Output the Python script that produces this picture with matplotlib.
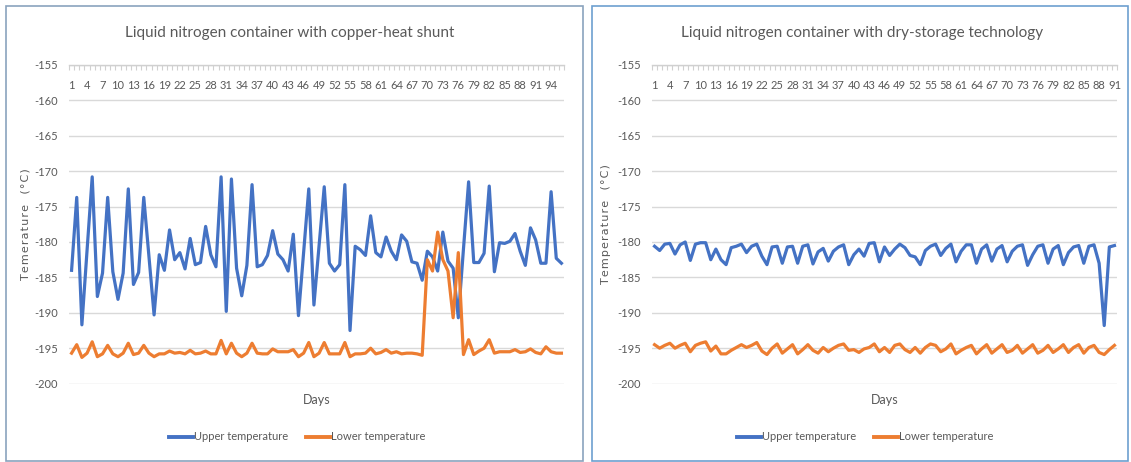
import matplotlib
matplotlib.use("Agg")
import matplotlib.pyplot as plt
from matplotlib.patches import Rectangle
from matplotlib.lines import Line2D
import numpy as np

# ---------------- data ----------------
title_left = "Liquid nitrogen container with copper-heat shunt"
title_right = "Liquid nitrogen container with dry-storage technology"
ylabel_left = "Temerature  (°C)"
ylabel_right = "Temperature  (°C)"
xlabel = "Days"
series_names = ["Upper temperature", "Lower temperature"]

upper_left = [
    -184.0, -173.7, -191.7, -181.2, -170.8, -187.7, -184.4, -173.7, -184.2, -188.1,
    -184.4, -172.5, -186.0, -184.3, -173.7, -182.0, -190.3, -181.8, -184.0, -178.3,
    -182.5, -181.5, -183.8, -179.5, -183.2, -182.9, -177.8, -181.8, -183.5, -170.8,
    -189.8, -171.1, -183.7, -187.6, -183.3, -171.9, -183.5, -183.2, -181.9, -178.4,
    -181.7, -182.5, -184.1, -178.9, -190.4, -181.5, -172.5, -188.9, -180.5, -172.2,
    -183.0, -184.1, -183.2, -171.9, -192.5, -180.6, -181.1, -181.9, -176.3, -181.5,
    -182.1, -179.3, -181.3, -182.5, -179.0, -179.9, -182.8, -183.0, -185.4, -181.3,
    -182.1, -184.1, -178.6, -182.7, -183.7, -190.7, -181.0, -171.5, -182.9, -182.9,
    -181.6, -172.1, -184.2, -180.1, -180.2, -179.9, -178.8, -181.3, -183.3, -178.0,
    -179.7, -183.0, -183.0, -172.9, -182.3, -183.0]
lower_left = [
    -195.7, -194.5, -196.3, -195.7, -194.1, -196.2, -195.8, -194.6, -195.8, -196.2,
    -195.7, -194.3, -195.9, -195.7, -194.6, -195.7, -196.2, -195.8, -195.8, -195.4,
    -195.7, -195.6, -195.8, -195.3, -195.8, -195.7, -195.4, -195.8, -195.8, -193.9,
    -195.8, -194.3, -195.7, -196.2, -195.7, -194.3, -195.7, -195.8, -195.8, -195.1,
    -195.5, -195.5, -195.5, -195.2, -196.2, -195.7, -194.2, -196.2, -195.7, -194.2,
    -195.8, -195.8, -195.8, -194.2, -196.2, -195.8, -195.8, -195.7, -195.0, -195.8,
    -195.6, -195.2, -195.7, -195.5, -195.8, -195.7, -195.7, -195.8, -196.0, -182.5,
    -184.1, -178.6, -182.5, -184.1, -190.7, -181.5, -195.9, -193.8, -195.9, -195.4,
    -195.0, -193.8, -195.7, -195.5, -195.5, -195.5, -195.2, -195.6, -195.5, -195.1,
    -195.6, -195.8, -194.8, -195.5, -195.7, -195.7]

upper_right = [
    -180.6, -181.2, -180.3, -180.2, -181.7, -180.4, -180.0, -182.6, -180.3, -180.1,
    -180.1, -182.5, -181.0, -182.5, -183.2, -180.8, -180.6, -180.3, -181.5, -180.6,
    -180.3, -182.0, -183.2, -180.7, -180.6, -183.0, -180.7, -180.6, -183.0, -180.6,
    -180.4, -183.1, -181.4, -180.9, -182.7, -181.3, -180.7, -180.4, -183.2, -181.8,
    -181.0, -182.0, -180.2, -180.1, -182.8, -180.7, -181.9, -181.0, -180.3, -180.8,
    -181.9, -182.1, -183.2, -181.2, -180.6, -180.3, -181.9, -180.9, -180.3, -182.8,
    -181.3, -180.4, -180.4, -183.0, -181.0, -180.4, -182.7, -181.0, -180.5, -182.8,
    -181.3, -180.6, -180.4, -183.3, -181.8, -180.6, -180.4, -183.0, -181.0, -180.5,
    -183.2, -181.5, -180.7, -180.5, -183.0, -180.6, -180.4, -183.0, -191.8, -180.7,
    -180.5]
lower_right = [
    -194.5, -195.0, -194.6, -194.3, -195.0, -194.6, -194.3, -195.5, -194.6, -194.3,
    -194.1, -195.4, -194.7, -195.8, -195.8, -195.3, -194.9, -194.5, -194.9, -194.6,
    -194.2, -195.4, -195.9, -195.0, -194.4, -195.7, -195.1, -194.5, -195.8, -195.2,
    -194.5, -195.3, -195.7, -194.9, -195.5, -195.0, -194.6, -194.4, -195.3, -195.2,
    -195.6, -195.1, -194.9, -194.4, -195.5, -194.9, -195.6, -194.6, -194.4, -195.2,
    -195.6, -194.9, -195.7, -194.9, -194.4, -194.6, -195.5, -195.1, -194.4, -195.8,
    -195.3, -194.9, -194.6, -195.8, -195.1, -194.5, -195.7, -195.1, -194.5, -195.6,
    -195.3, -194.6, -195.7, -195.1, -194.5, -195.7, -195.3, -194.6, -195.6, -195.1,
    -194.5, -195.6, -194.9, -194.5, -195.7, -194.9, -194.6, -195.6, -195.9, -195.2,
    -194.6]

y_ticks = [-155, -160, -165, -170, -175, -180, -185, -190, -195, -200]

# ---------------- style ----------------
BLUE = "#4472C4"
ORANGE = "#ED7D31"
TXT = "#595959"
GRID = "#d9d9d9"
FONT = "Lato"

W, H = 1131, 462
fig = plt.figure(figsize=(W / 100, H / 100), dpi=100)
fig.patch.set_facecolor("white")


def px(x0, y0, x1, y1):
    """pixel box (top-left origin) -> figure fraction rect"""
    return [x0 / W, 1 - y1 / H, (x1 - x0) / W, (y1 - y0) / H]


# panel frames
fig.add_artist(Rectangle((6 / W, 1 - 461 / H), 577 / W, 455 / H, transform=fig.transFigure,
                         fill=False, edgecolor="#8aa3bd", lw=1.2))
fig.add_artist(Rectangle((592 / W, 1 - 461 / H), 536 / W, 455 / H, transform=fig.transFigure,
                         fill=False, edgecolor="#6d9fd0", lw=1.2))


def spaced(s):
    return "\u200a".join(s)


def draw(rect, upper, lower, title, ylabel, title_cx, ylab_x, legend_cx):
    ax = fig.add_axes(rect)
    n = len(upper)
    days = np.arange(1, n + 1)
    ax.plot(days, upper, color=BLUE, lw=2.3, solid_joinstyle="round", zorder=3)
    ax.plot(days, lower, color=ORANGE, lw=2.3, solid_joinstyle="round", zorder=3)
    ax.set_xlim(0.5, n + 0.5)
    ax.set_ylim(-200, -155)
    ax.set_yticks(y_ticks)
    ax.set_yticklabels([str(v) for v in y_ticks], fontfamily=FONT, fontsize=8, color=TXT)
    ax.yaxis.grid(True, color=GRID, lw=1.0)
    ax.set_axisbelow(True)
    for s in ["left", "right", "bottom"]:
        ax.spines[s].set_visible(False)
    ax.spines["top"].set_color("#d0d0d0")
    ax.spines["top"].set_linewidth(1.0)
    ax.tick_params(axis="y", length=0, pad=8)
    # category axis at the top, labels below the line
    ax.xaxis.tick_top()
    lab = list(range(1, n + 1, 3))
    ax.set_xticks(lab)
    ax.set_xticklabels([str(v) for v in lab], fontfamily=FONT, fontsize=8, color=TXT)
    ax.set_xticks(np.arange(0.5, n + 1, 1.0), minor=True)
    ax.tick_params(axis="x", which="major", length=0, pad=-19)
    ax.tick_params(axis="x", which="minor", direction="in", length=3.5,
                   color="#d0d0d0", width=0.8, top=True, bottom=False)
    ax.set_ylabel(spaced(ylabel), fontfamily="DejaVu Sans", fontsize=8, color=TXT)
    ax.yaxis.set_label_coords(ylab_x, 0.5)
    cx = rect[0] + rect[2] / 2
    fig.text(cx, 1 - 400 / H, xlabel, ha="center", va="center",
             fontfamily=FONT, fontsize=9, color=TXT)
    fig.text(title_cx, 1 - 33 / H, title, ha="center", va="center",
             fontfamily=FONT, fontsize=11, color=TXT)
    handles = [Line2D([0], [0], color=BLUE, lw=2.8),
               Line2D([0], [0], color=ORANGE, lw=2.8)]
    fig.legend(handles, series_names, loc="center", bbox_to_anchor=(legend_cx, 1 - 437 / H),
               ncol=2, frameon=False, prop={"family": FONT, "size": 8},
               labelcolor=TXT, handlelength=2.2, handletextpad=0.05, columnspacing=1.6)
    return ax


draw(px(69, 65, 564, 383.6), upper_left, lower_left, title_left, ylabel_left,
     290 / W, -0.078, 297 / W)
draw(px(652, 65, 1117, 383.6), upper_right, lower_right, title_right, ylabel_right,
     862 / W, -0.088, 865 / W)

fig.savefig("out.png", dpi=100, facecolor="white")
